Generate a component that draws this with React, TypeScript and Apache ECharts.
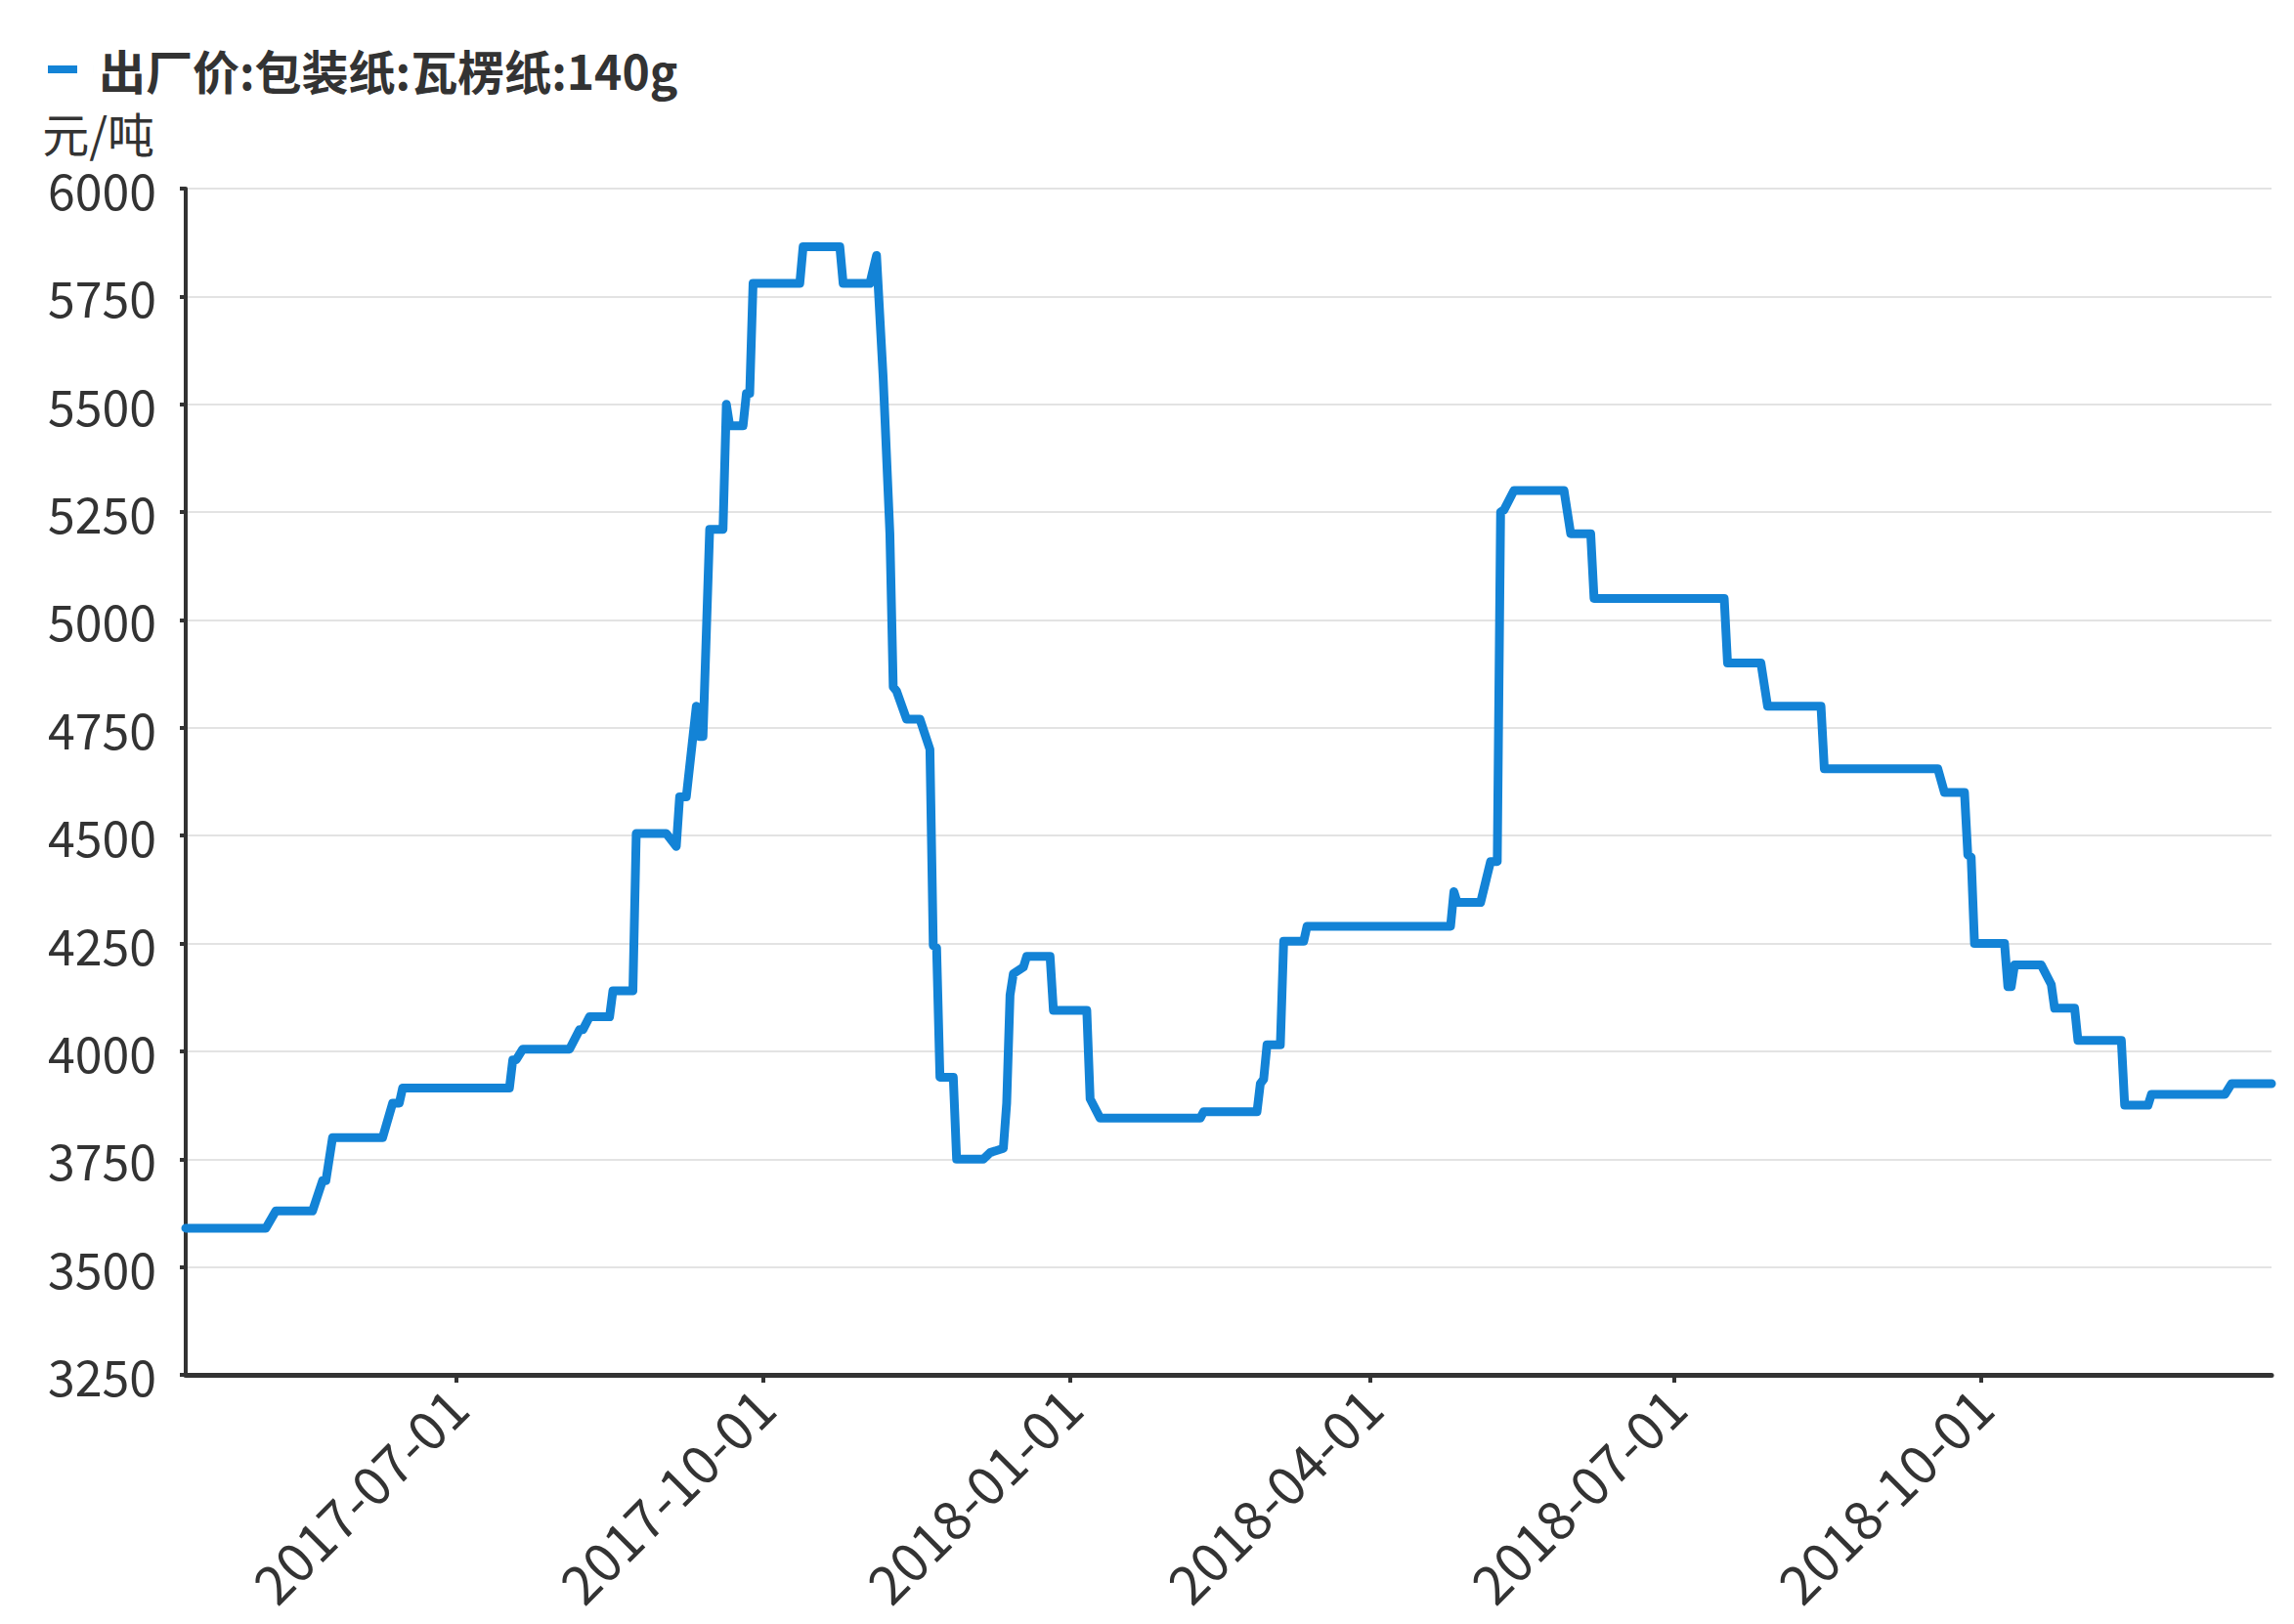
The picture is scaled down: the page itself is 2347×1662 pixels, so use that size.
import React, { useEffect, useRef } from "react";
import * as echarts from "echarts";

const seriesName = "出厂价:包装纸:瓦楞纸:140g";
const unitName = "元/吨";

const dates = [
  "2017-04-11", "2017-05-05", "2017-05-08", "2017-05-19", "2017-05-22", "2017-05-23", "2017-05-25",
  "2017-06-09", "2017-06-12", "2017-06-14", "2017-06-15", "2017-07-17", "2017-07-18", "2017-07-19",
  "2017-07-21", "2017-08-04", "2017-08-07", "2017-08-08", "2017-08-10", "2017-08-16", "2017-08-17",
  "2017-08-23", "2017-08-24", "2017-09-02", "2017-09-05", "2017-09-06", "2017-09-08", "2017-09-11",
  "2017-09-12", "2017-09-13", "2017-09-15", "2017-09-19", "2017-09-20", "2017-09-21", "2017-09-25",
  "2017-09-26", "2017-09-27", "2017-09-28", "2017-10-12", "2017-10-13", "2017-10-24", "2017-10-25",
  "2017-11-02", "2017-11-04", "2017-11-06", "2017-11-08", "2017-11-09", "2017-11-10", "2017-11-13",
  "2017-11-17", "2017-11-20", "2017-11-21", "2017-11-22", "2017-11-23", "2017-11-27", "2017-11-28",
  "2017-12-06", "2017-12-08", "2017-12-12", "2017-12-13", "2017-12-14", "2017-12-15", "2017-12-18",
  "2017-12-19", "2017-12-26", "2017-12-27", "2018-01-06", "2018-01-07", "2018-01-10", "2018-02-09",
  "2018-02-10", "2018-02-26", "2018-02-27", "2018-02-28", "2018-03-01", "2018-03-05", "2018-03-06",
  "2018-03-12", "2018-03-13", "2018-04-25", "2018-04-26", "2018-04-27", "2018-05-04", "2018-05-07",
  "2018-05-09", "2018-05-10", "2018-05-11", "2018-05-14", "2018-05-29", "2018-05-31", "2018-06-06",
  "2018-06-07", "2018-07-16", "2018-07-17", "2018-07-27", "2018-07-29", "2018-08-14", "2018-08-15",
  "2018-09-18", "2018-09-20", "2018-09-26", "2018-09-27", "2018-09-28", "2018-09-29", "2018-10-08",
  "2018-10-09", "2018-10-10", "2018-10-11", "2018-10-19", "2018-10-22", "2018-10-23", "2018-10-29",
  "2018-10-30", "2018-11-12", "2018-11-13", "2018-11-20", "2018-11-21", "2018-12-13", "2018-12-15",
  "2018-12-27",
];

const prices = [
  3590, 3590, 3630, 3630, 3700, 3700, 3800,
  3800, 3880, 3880, 3915, 3915, 3980, 3980,
  4005, 4005, 4050, 4050, 4080, 4080, 4140,
  4140, 4505, 4505, 4475, 4590, 4590, 4800,
  4730, 4730, 5210, 5210, 5500, 5450, 5450,
  5525, 5525, 5780, 5780, 5865, 5865, 5780,
  5780, 5845, 5560, 5200, 4845, 4835, 4770,
  4770, 4700, 4245, 4240, 3940, 3940, 3750,
  3750, 3765, 3775, 3880, 4130, 4180, 4195,
  4220, 4220, 4095, 4095, 3890, 3845, 3845,
  3860, 3860, 3925, 3935, 4015, 4015, 4255,
  4255, 4290, 4290, 4370, 4345, 4345, 4440,
  4440, 5250, 5255, 5300, 5300, 5200, 5200,
  5050, 5050, 4900, 4900, 4800, 4800, 4655,
  4655, 4600, 4600, 4455, 4450, 4250, 4250,
  4150, 4150, 4200, 4200, 4155, 4100, 4100,
  4025, 4025, 3875, 3875, 3900, 3900, 3925,
  3925,
];

const yMin = 3250;
const yMax = 6000;
const yStep = 250;
const xStart = "2017-04-11";
const xEnd = "2018-12-27";
const QUARTER_MS = 91 * 24 * 3600 * 1000;

const FONT = "'Noto Sans CJK SC', 'Noto Sans', sans-serif";
const LINE_COLOR = "#1383D6";
const TEXT_COLOR = "#333333";
// legend swatch: a 30x8 bar followed by a near-invisible sliver that sets the gap before the text
const LEGEND_ICON = "path://M0,0H30V8H0Z M47,0H47.01V8H47Z";

function pad(n: number) {
  return n < 10 ? "0" + n : "" + n;
}

export default function App() {
  const ref = useRef<HTMLDivElement>(null);

  useEffect(() => {
    document.body.style.margin = "0";
    if (!ref.current) return;
    const chart = echarts.init(ref.current, null, { renderer: "svg" });
    const data = dates.map((d, i) => [d, prices[i]]);
    chart.setOption({
      animation: false,
      backgroundColor: "#ffffff",
      textStyle: { fontFamily: FONT },
      legend: {
        left: 44,
        top: 41,
        icon: LEGEND_ICON,
        itemWidth: 47,
        itemHeight: 8,
        textStyle: {
          fontSize: 48,
          lineHeight: 50,
          fontWeight: "bold",
          color: TEXT_COLOR,
          fontFamily: FONT,
        },
        data: [seriesName],
      },
      grid: { left: 190, right: 23, top: 193, bottom: 255, containLabel: false },
      xAxis: {
        type: "time",
        min: xStart,
        max: xEnd,
        splitNumber: 6,
        minInterval: QUARTER_MS,
        maxInterval: QUARTER_MS,
        axisLine: { show: true, lineStyle: { color: TEXT_COLOR, width: 5 } },
        axisTick: { show: true, length: 8, lineStyle: { color: TEXT_COLOR, width: 4 } },
        axisLabel: {
          rotate: 45,
          fontSize: 55,
          color: TEXT_COLOR,
          fontFamily: FONT,
          margin: 22,
          formatter: (v: number) => {
            const d = new Date(v);
            return d.getFullYear() + "-" + pad(d.getMonth() + 1) + "-" + pad(d.getDate());
          },
        },
        splitLine: { show: false },
      },
      yAxis: {
        type: "value",
        min: yMin,
        max: yMax,
        interval: yStep,
        name: unitName,
        nameLocation: "end",
        nameGap: 33,
        nameTextStyle: {
          fontSize: 48,
          lineHeight: 50,
          color: TEXT_COLOR,
          fontFamily: FONT,
          align: "right",
          verticalAlign: "bottom",
          padding: [0, 32, 0, 0],
        },
        axisLine: { show: true, lineStyle: { color: TEXT_COLOR, width: 4 } },
        axisTick: { show: true, length: 6, lineStyle: { color: TEXT_COLOR, width: 4 } },
        axisLabel: {
          fontSize: 50,
          color: TEXT_COLOR,
          fontFamily: FONT,
          margin: 30,
          formatter: (v: number) => String(v),
        },
        splitLine: { show: true, lineStyle: { color: "#e3e3e3", width: 2 } },
      },
      series: [
        {
          name: seriesName,
          type: "line",
          data,
          showSymbol: false,
          symbol: "none",
          lineStyle: { color: LINE_COLOR, width: 9, cap: "round", join: "round" },
          itemStyle: { color: LINE_COLOR },
        },
      ],
    });
    return () => chart.dispose();
  }, []);

  return <div ref={ref} style={{ width: 2347, height: 1662 }} />;
}
